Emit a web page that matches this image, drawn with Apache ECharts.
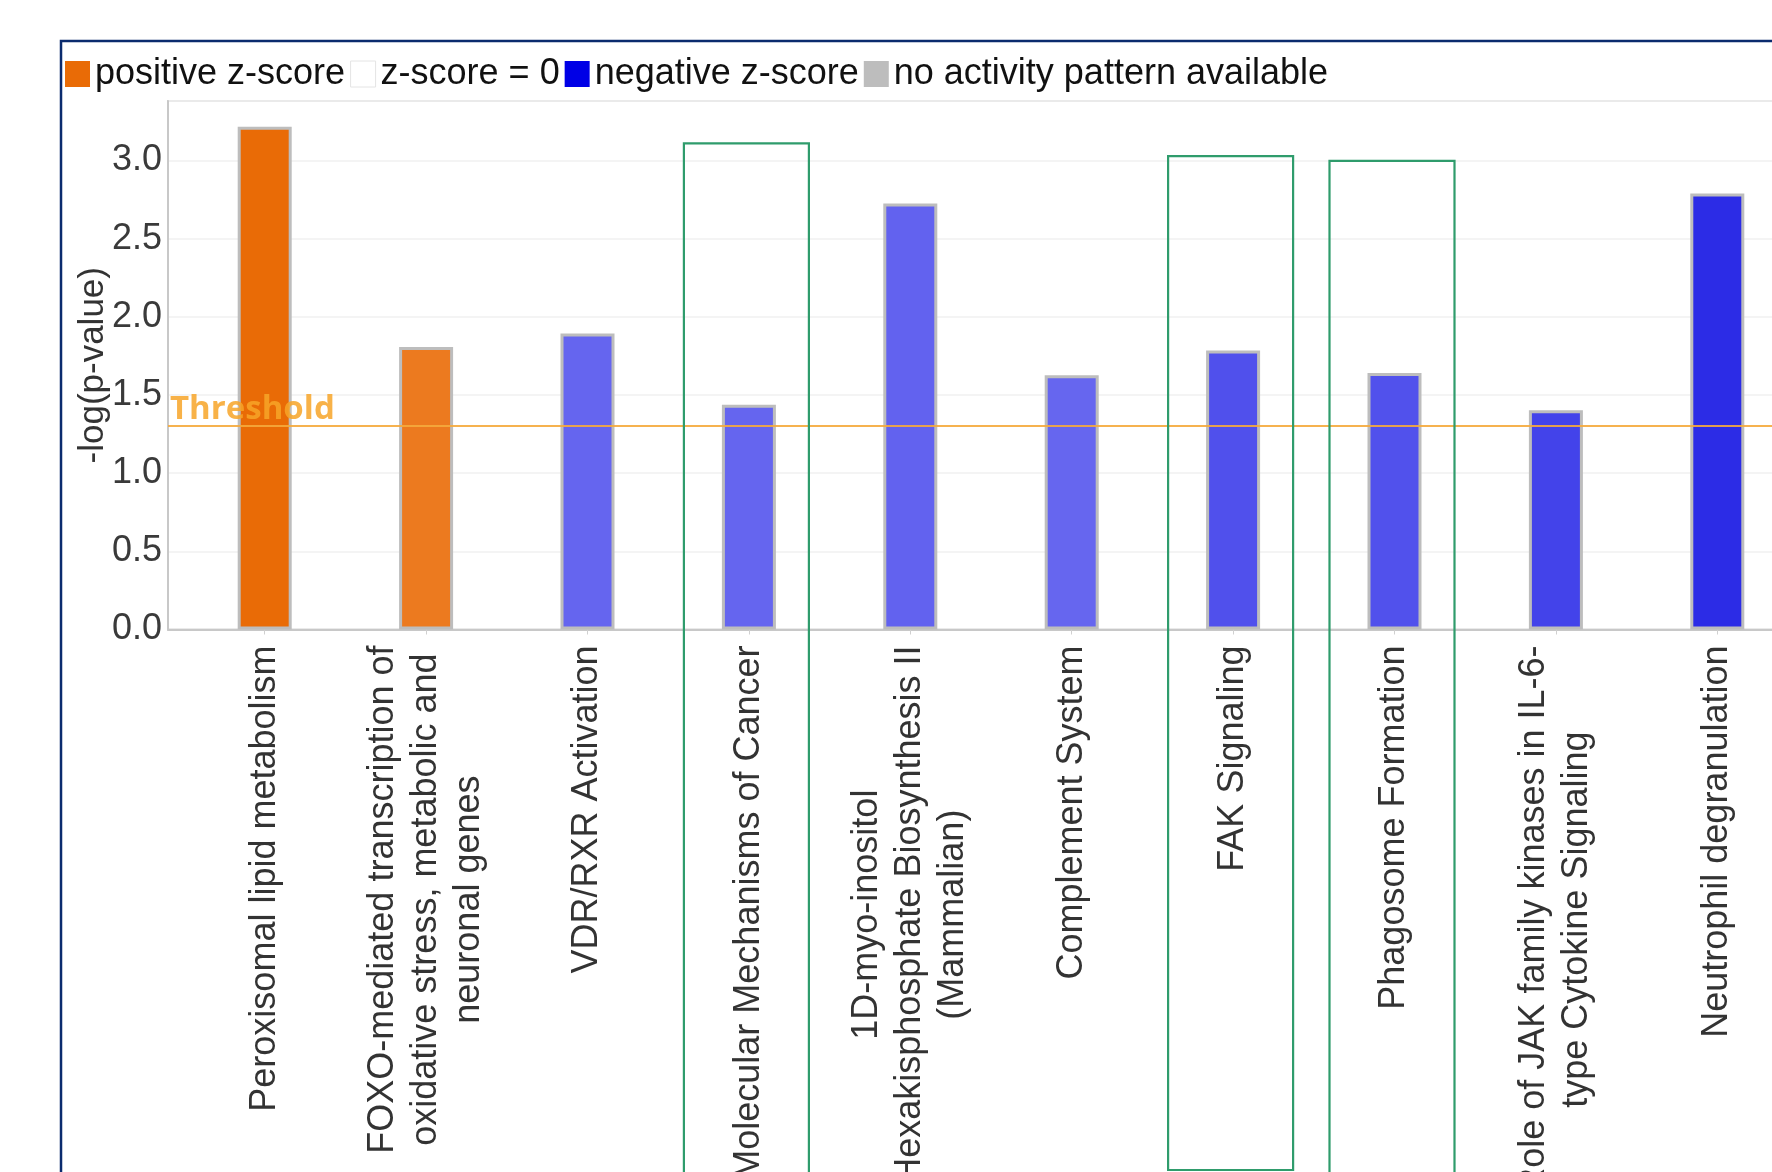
<!DOCTYPE html>
<html>
<head>
<meta charset="utf-8">
<script src="https://cdn.jsdelivr.net/npm/echarts@6/dist/echarts.min.js"></script>
<style>
  html, body { margin: 0; padding: 0; background: #ffffff; }
  #chart { width: 1772px; height: 1172px; }
</style>
</head>
<body>
<div id="chart"></div>
<script>
// Canonical pathways ranked by -log(p-value), coloured by activation z-score
const categories = [
  'Peroxisomal lipid metabolism',
  'FOXO-mediated transcription of\noxidative stress, metabolic and\nneuronal genes',
  'VDR/RXR Activation',
  'Molecular Mechanisms of Cancer',
  '1D-myo-inositol\nHexakisphosphate Biosynthesis II\n(Mammalian)',
  'Complement System',
  'FAK Signaling',
  'Phagosome Formation',
  'Role of JAK family kinases in IL-6-\ntype Cytokine Signaling',
  'Neutrophil degranulation'
];
const negLogP = [3.215, 1.806, 1.893, 1.438, 2.724, 1.626, 1.785, 1.640, 1.402, 2.789];
const zScoreSign = ['positive', 'positive', 'negative', 'negative', 'negative',
                    'negative', 'negative', 'negative', 'negative', 'negative'];
const barColors = ['#E96B06', '#EC7A1F', '#6565EF', '#6565EF', '#6262EF',
                   '#6666EF', '#5050EC', '#5151EC', '#4343EA', '#2C2CE6'];
const legendNames = ['positive z-score', 'z-score = 0', 'negative z-score', 'no activity pattern available'];
const legendColors = ['#E96B06', '#FFFFFF', '#0000E6', '#BDBDBD'];
const legendSign = ['positive', 'zero', 'negative', 'none'];
const thresholdValue = 1.3;
const yMax = 3.38;
// pathways outlined with a highlight box, and the value where each box starts
const highlighted = ['Molecular Mechanisms of Cancer', 'FAK Signaling', 'Phagosome Formation'];
const highlightTops = [3.109, 3.027, 2.997];
const highlightOpenBottom = [true, false, true];

const FONT = '"Liberation Sans", Arial, Helvetica, sans-serif';

const chart = echarts.init(document.getElementById('chart'), null, { renderer: 'canvas' });

const barSeries = legendNames.map((name, s) => ({
  name: name,
  type: 'bar',
  xAxisIndex: 1,
  yAxisIndex: 1,
  stack: 'pathways',
  barWidth: 54,
  itemStyle: { color: legendColors[s], borderColor: '#BDBDBD', borderWidth: 3 },
  data: negLogP.map((v, i) => zScoreSign[i] === legendSign[s]
    ? { value: v, itemStyle: { color: barColors[i] } }
    : '-'),
  z: 2
}));

const option = {
  backgroundColor: '#ffffff',
  animation: false,
  legend: {
    left: 65,
    top: 56,
    padding: 0,
    itemWidth: 25,
    itemHeight: 26,
    itemGap: 5,
    icon: 'rect',
    selectedMode: false,
    textStyle: { fontFamily: FONT, fontSize: 36, color: '#111111' },
    itemStyle: { borderWidth: 0 },
    data: legendNames.map((n, i) => i === 1
      ? { name: n, itemStyle: { borderColor: '#E4E4E4', borderWidth: 1 } }
      : { name: n })
  },
  grid: [
    { // frame, value axis and threshold
      left: 168, top: 101, width: 1660, bottom: 542.5,
      outerBoundsMode: 'none',
      show: true, borderColor: '#D6D6D6', borderWidth: 2, backgroundColor: 'transparent'
    },
    { // pathway bars
      left: 184, top: 101, width: 1614, bottom: 542.5,
      outerBoundsMode: 'none'
    }
  ],
  xAxis: [
    {
      gridIndex: 0, type: 'value', min: 0, max: 1,
      axisLine: { show: true, onZero: false, lineStyle: { color: '#C8C8C8', width: 2 } },
      axisTick: { show: false }, axisLabel: { show: false }, splitLine: { show: false }
    },
    {
      gridIndex: 1, type: 'category', data: categories,
      axisLine: { show: false },
      axisTick: { show: true, alignWithLabel: true, length: 5, lineStyle: { color: '#D0D0D0' } },
      axisLabel: {
        interval: 0,
        rotate: 90,
        margin: 16,
        fontFamily: FONT,
        fontSize: 36,
        color: '#333333',
        formatter: v => v.split('\n').map(line => '{c|' + line + '}').join('\n'),
        rich: {
          c: { align: 'center', fontFamily: FONT, fontSize: 36, lineHeight: 43, color: '#333333' }
        }
      },
      splitLine: { show: false }
    }
  ],
  yAxis: [
    {
      gridIndex: 0, type: 'value', min: 0, max: yMax, interval: 0.5,
      name: '-log(p-value)',
      nameLocation: 'middle',
      nameGap: 57,
      nameMoveOverlap: false,
      nameTextStyle: { fontFamily: FONT, fontSize: 35, color: '#333333' },
      axisLine: { show: true, lineStyle: { color: '#C8C8C8', width: 2 } },
      axisTick: { show: false },
      axisLabel: {
        margin: 6, fontFamily: FONT, fontSize: 36, color: '#3A3A3A',
        showMaxLabel: false,
        formatter: v => v.toFixed(1)
      },
      splitLine: { show: true, lineStyle: { color: '#F1F1F1', width: 1.5 } }
    },
    {
      gridIndex: 1, type: 'value', min: 0, max: yMax, interval: 0.5, show: false,
      splitLine: { show: false }
    }
  ],
  series: barSeries.concat([
    {
      name: 'threshold',
      type: 'line',
      xAxisIndex: 0,
      yAxisIndex: 0,
      data: [],
      z: 5,
      silent: true,
      markLine: {
        silent: true,
        symbol: 'none',
        lineStyle: { type: 'solid', color: 'rgba(245,170,60,0.9)', width: 2 },
        label: {
          show: true,
          position: 'insideStartTop',
          formatter: 'Threshold',
          distance: [2, 0],
          fontFamily: '"Open Sans", "Noto Sans", sans-serif',
          fontWeight: 'bold',
          fontSize: 33,
          color: 'rgba(247,165,40,0.85)'
        },
        data: [{ yAxis: thresholdValue }]
      }
    }
  ])
};

chart.setOption(option);

// Outline boxes around highlighted pathways, placed through the bar axes
const boxWidth = 125;
const boxNudge = -2.5;
const graphics = [
  {
    type: 'rect',
    shape: { x: 61, y: 41, width: 1800, height: 1200 },
    style: { fill: null, stroke: '#0B2B6E', lineWidth: 2.5 },
    z: 10
  }
];
highlighted.forEach((name, k) => {
  const idx = categories.indexOf(name);
  const pt = chart.convertToPixel({ xAxisIndex: 1, yAxisIndex: 1 }, [idx, highlightTops[k]]);
  const bottom = highlightOpenBottom[k] ? chart.getHeight() + 20 : chart.getHeight() - 2;
  graphics.push({
    type: 'rect',
    shape: { x: pt[0] - boxWidth / 2 + boxNudge, y: pt[1], width: boxWidth, height: bottom - pt[1] },
    style: { fill: null, stroke: '#2F9C6C', lineWidth: 2.2 },
    z: 10
  });
});
chart.setOption({ graphic: graphics });
</script>
</body>
</html>
